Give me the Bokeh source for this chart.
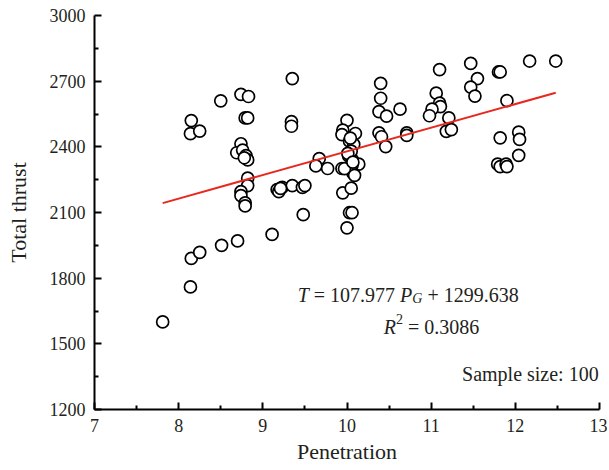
from bokeh.plotting import figure
from bokeh.models import Range1d, FixedTicker, ColumnDataSource
from bokeh.core.properties import value
from bokeh.embed import file_html
from bokeh.resources import INLINE

penetration = [7.81, 8.14, 8.15, 8.25, 8.51, 8.70, 9.11, 9.48, 8.15, 8.14,
               8.25, 8.50, 8.74, 8.83, 8.79, 8.82, 9.35, 9.34, 9.34, 8.74,
               8.69, 8.76, 8.80, 8.82, 8.82, 8.82, 8.74, 8.74, 8.79, 8.79,
               9.17, 9.19, 9.23, 9.35, 9.47, 9.50, 9.67, 9.63, 9.77, 10.00,
               10.00, 9.95, 9.94, 10.10, 10.03, 10.08, 10.02, 10.06, 10.14, 9.94,
               10.06, 10.07, 9.95, 10.05, 10.03, 10.06, 10.40, 10.40, 10.38, 10.47,
               10.63, 10.38, 10.41, 10.46, 10.71, 10.71, 11.10, 11.06, 11.10, 11.11,
               11.01, 10.98, 11.21, 11.18, 11.24, 11.47, 11.55, 11.47, 11.52, 11.80,
               11.82, 12.17, 12.48, 11.90, 11.82, 12.04, 12.05, 12.04, 11.79, 11.82,
               11.89, 11.90, 10.05, 10.09, 9.97, 10.04, 8.78, 9.21, 10.01, 10.07]
total_thrust = [1600, 1760, 1890, 1918, 1950, 1970, 2000, 2090, 2520, 2460,
                2472, 2610, 2640, 2630, 2532, 2532, 2712, 2515, 2494, 2414,
                2373, 2385, 2360, 2340, 2257, 2223, 2195, 2177, 2144, 2130,
                2205, 2195, 2215, 2223, 2215, 2223, 2346, 2313, 2301, 2030,
                2521, 2476, 2456, 2461, 2426, 2411, 2358, 2343, 2321, 2301,
                2316, 2280, 2190, 2211, 2099, 2099, 2690, 2622, 2561, 2540,
                2572, 2464, 2446, 2401, 2464, 2452, 2753, 2645, 2600, 2584,
                2572, 2542, 2532, 2471, 2479, 2781, 2712, 2673, 2632, 2742,
                2742, 2792, 2792, 2611, 2441, 2467, 2434, 2361, 2321, 2310,
                2321, 2310, 2380, 2270, 2300, 2440, 2350, 2210, 2370, 2330]

slope = 107.977
intercept = 1299.638
r_squared = 0.3086
sample_size = 100

x_ticks = [7, 8, 9, 10, 11, 12, 13]
x_minor = [7.5, 8.5, 9.5, 10.5, 11.5, 12.5]
y_ticks = [1200, 1500, 1800, 2100, 2400, 2700, 3000]
y_minor = [1350, 1650, 1950, 2250, 2550, 2850]

FONT = "Liberation Serif"
TICK_FONT = "'Liberation Serif', serif"
TXT = "#231f20"

p = figure(width=607, height=466, output_backend="svg", toolbar_location=None,
           x_range=Range1d(7, 13), y_range=Range1d(1200, 3000),
           min_border_left=94, min_border_right=8, min_border_top=15, min_border_bottom=53)
p.grid.visible = False
p.outline_line_color = None
p.background_fill_color = "white"
p.border_fill_color = "white"

for ax, ticks, minor in ((p.xaxis[0], x_ticks, x_minor), (p.yaxis[0], y_ticks, y_minor)):
    ax.ticker = FixedTicker(ticks=ticks, minor_ticks=minor)
    ax.axis_line_width = 2
    ax.axis_line_color = "black"
    ax.major_tick_in = 7
    ax.major_tick_out = 0
    ax.minor_tick_in = 4
    ax.minor_tick_out = 0
    ax.major_tick_line_width = 2
    ax.minor_tick_line_width = 2
    ax.major_tick_line_color = "black"
    ax.minor_tick_line_color = "black"
    ax.axis_label_text_font = FONT
    ax.axis_label_text_font_size = "22px"
    ax.axis_label_text_font_style = "normal"
    ax.axis_label_text_color = TXT
    ax.major_label_standoff = 9
    ax.major_label_text_font = TICK_FONT
    ax.major_label_text_font_size = "18px"
    ax.major_label_text_font_style = "normal"
    ax.major_label_text_color = TXT

p.xaxis.axis_label = "Penetration"
p.yaxis.axis_label = "Total thrust"
p.xaxis.axis_label_standoff = 4
p.yaxis.axis_label_standoff = 16

src = ColumnDataSource(dict(x=penetration, y=total_thrust))
p.scatter("x", "y", source=src, size=12, marker="circle", fill_color="white",
          line_color="black", line_width=1.7)

x0, x1 = min(penetration), max(penetration)
p.line([x0, x1], [slope * x0 + intercept, slope * x1 + intercept],
       line_color="#e8281e", line_width=2)

# Times metrics (per 1000 em)
W = {"0": 500, "1": 500, "2": 500, "3": 500, "4": 500, "5": 500, "6": 500, "7": 500,
     "8": 500, "9": 500, ".": 250, " ": 250, "=": 564, "+": 564,
     "T": 556, "P": 611, "G": 722, "R": 611}

def width(s, size):
    return sum(W.get(c, 500) for c in s) * size / 1000.0

F = 20
SUB = 14
SP = 250 * F / 1000

def piece(x, y, txt, dx, dy=0, size=F, style="normal", align="left"):
    p.text(x=[x], y=[y], text=[txt], x_offset=dx, y_offset=dy,
           text_font=value(FONT), text_font_size=f"{size}px",
           text_font_style=style, text_color=TXT,
           text_align=align, text_baseline="alphabetic")

# equation line
ex, ey = 9.414, 1724
s_slope = "%.3f" % slope
s_int = "%.3f" % intercept
dx = 0
piece(ex, ey, "T", dx, style="italic"); dx += width("T", F) + SP
piece(ex, ey, "=", dx); dx += width("=", F) + SP
piece(ex, ey, s_slope, dx); dx += width(s_slope, F) + SP
piece(ex, ey, "P", dx, style="italic"); dx += width("P", F)
piece(ex, ey, "G", dx, dy=4, size=SUB, style="italic"); dx += width("G", SUB) + SP
piece(ex, ey, "+", dx); dx += width("+", F) + SP
piece(ex, ey, s_int, dx)

# R^2 line
rx, ry = 10.436, 1577
s_r = "%.4f" % r_squared
dx = 0
piece(rx, ry, "R", dx, style="italic"); dx += width("R", F)
piece(rx, ry, "2", dx, dy=-8, size=SUB); dx += width("2", SUB) + SP
piece(rx, ry, "=", dx); dx += width("=", F) + SP
piece(rx, ry, s_r, dx)

# sample size
piece(12.99, 1364, "Sample size: %d" % sample_size, 0, align="right")

open("out.html", "w").write(file_html(p, INLINE))
